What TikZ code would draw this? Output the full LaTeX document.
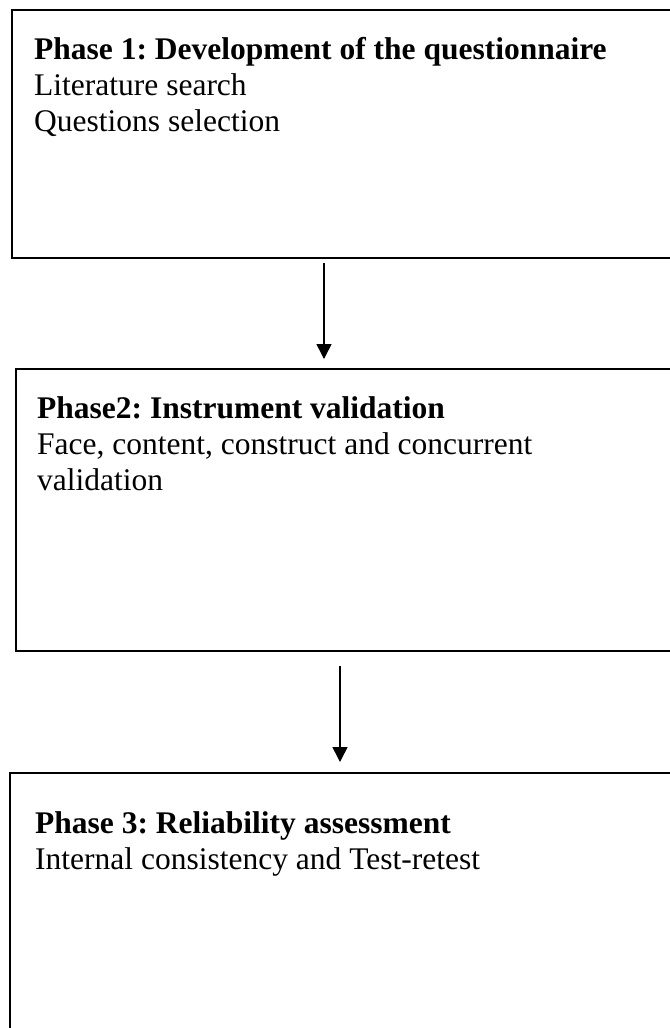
\documentclass[tikz,border=0pt]{standalone}
\usepackage{fontspec}
\setmainfont{Liberation Serif}
\usetikzlibrary{arrows.meta}
\frenchspacing
\begin{document}
\begin{tikzpicture}[x=1bp,y=-1bp,
  phasebox/.style={draw=black, line width=1.4bp, fill=none, anchor=north west, inner sep=0pt, outer sep=0pt},
  line/.style={anchor=base west, inner sep=0pt, font=\fontsize{31.5bp}{36bp}\selectfont},
  flow/.style={line width=1.6bp, -{Triangle[length=15bp,width=15bp]}}]
\useasboundingbox[fill=white] (0,0) rectangle (670,1028);
% boxes
\node[phasebox, minimum width=660bp, minimum height=248bp] (b1) at (12,10) {};
\node[phasebox, minimum width=656bp, minimum height=282bp] (b2) at (16,369) {};
\node[phasebox, minimum width=662bp, minimum height=280bp] (b3) at (10,773) {};
% texts
\node[line] (t1a) at (34,59) {\textbf{Phase 1: Development of the questionnaire}};
\node[line] (t1b) at (34,95) {Literature search};
\node[line] (t1c) at (34,131) {Questions selection};
\node[line] (t2a) at (37,418) {\textbf{Phase2: Instrument validation}};
\node[line] (t2b) at (37,454) {Face, content, construct and concurrent};
\node[line] (t2c) at (37,490) {validation};
\node[line] (t3a) at (35,833) {\textbf{Phase 3: Reliability assessment}};
\node[line] (t3b) at (35,869) {Internal consistency and Test-retest};
% arrows
\coordinate (a1s) at (324,263);
\coordinate (a1e) at (324,359);
\coordinate (a2s) at (340,666);
\coordinate (a2e) at (340,762);
\draw[flow] (a1s) -- (a1e);
\draw[flow] (a2s) -- (a2e);
\end{tikzpicture}
\end{document}
